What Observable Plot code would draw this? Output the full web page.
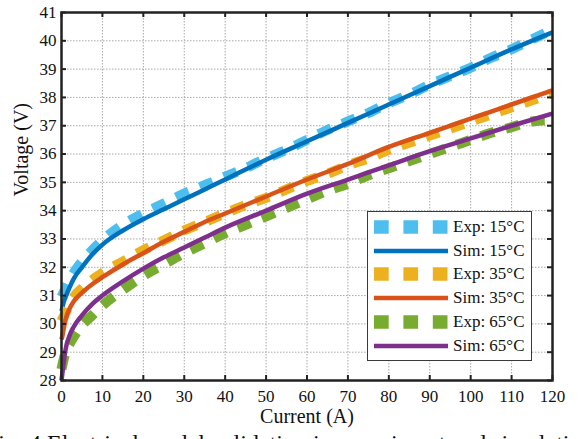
<!DOCTYPE html>
<html><head><meta charset="utf-8">
<script src="https://cdn.jsdelivr.net/npm/d3@7"></script>
<script src="https://cdn.jsdelivr.net/npm/@observablehq/plot@0.6"></script>
<style>
body{margin:0;background:#fff;font-family:"Liberation Serif",serif;}
#wrap{position:relative;width:579px;height:439px;overflow:hidden;background:#fff;}
#legend{position:absolute;left:367px;top:211px;width:165px;height:150px;border:1.5px solid #3a3a3a;background:#fff;box-sizing:border-box;}
.row{position:absolute;left:6px;height:24px;display:flex;align-items:center;font-size:17px;color:#111;white-space:nowrap;}
.row svg{margin-right:5px;}
#caption{position:absolute;left:-15px;top:430px;white-space:nowrap;font-size:24px;color:#111;font-family:"Liberation Serif",serif;}
</style></head><body>
<div id="wrap"><div id="chart"></div><div id="legend"></div><div id="caption">Fig. 4 Electrical model validation in experiment and simulation at different temperatures.</div></div>
<script>
// ---- data ----
const xTicks = [0,10,20,30,40,50,60,70,80,90,100,110,120];
const yTicks = [28,29,30,31,32,33,34,35,36,37,38,39,40,41];

const expCurrent = [0,1,2,3,5,7.5,10,15,20,25,30,35,40,45,50,55,60,65,70,75,80,85,90,95,100,105,110,115,120];
const exp15 = [30.95,31.25,31.55,31.8,32.2,32.6,32.95,33.5,33.9,34.25,34.6,34.9,35.2,35.5,35.85,36.15,36.5,36.85,37.15,37.45,37.8,38.1,38.45,38.75,39.05,39.4,39.7,40.05,40.4];
const exp35 = [30.1,30.4,30.7,30.95,31.25,31.55,31.8,32.2,32.6,32.95,33.3,33.6,33.9,34.2,34.45,34.75,35.05,35.3,35.6,35.85,36.15,36.4,36.65,36.9,37.15,37.4,37.65,37.9,38.15];
const exp65 = [28.4,29.0,29.3,29.55,29.95,30.3,30.65,31.2,31.7,32.1,32.5,32.85,33.2,33.5,33.8,34.1,34.4,34.7,34.95,35.25,35.5,35.75,36.0,36.25,36.5,36.75,36.95,37.15,37.2];

const simCurrent = [0,0.25,0.5,1,2,3,5,7.5,10,15,20,25,30,35,40,50,60,70,80,90,100,110,120];
const sim15 = [30.45,30.6,30.75,30.95,31.3,31.6,32.0,32.45,32.8,33.3,33.7,34.05,34.4,34.75,35.1,35.8,36.45,37.1,37.75,38.4,39.05,39.7,40.3];
const sim35 = [29.45,29.6,29.8,30.15,30.55,30.8,31.1,31.4,31.65,32.1,32.5,32.9,33.25,33.6,33.9,34.5,35.1,35.65,36.25,36.75,37.25,37.75,38.25];
const sim65 = [28.0,28.3,28.6,29.1,29.6,29.9,30.3,30.7,31.0,31.5,31.95,32.35,32.7,33.05,33.4,34.0,34.6,35.1,35.6,36.1,36.55,37.0,37.43];

const seriesNames = ["Exp: 15°C","Sim: 15°C","Exp: 35°C","Sim: 35°C","Exp: 65°C","Sim: 65°C"];
const seriesColors = ["#4DBEEE","#0072BD","#EDB120","#D95319","#77AC30","#7E2F8E"];
const seriesIsExp = [true,false,true,false,true,false];

// ---- build ----
const seriesData = [
  expCurrent.map((I,i)=>({I,V:exp15[i]})),
  simCurrent.map((I,i)=>({I,V:sim15[i]})),
  expCurrent.map((I,i)=>({I,V:exp35[i]})),
  simCurrent.map((I,i)=>({I,V:sim35[i]})),
  expCurrent.map((I,i)=>({I,V:exp65[i]})),
  simCurrent.map((I,i)=>({I,V:sim65[i]}))
];

const lineMarks = seriesData.map((d,k)=> seriesIsExp[k]
  ? Plot.line(d,{x:"I",y:"V",stroke:seriesColors[k],strokeWidth:10,strokeDasharray:"14 12",strokeLinecap:"butt",strokeLinejoin:"miter",curve:"monotone-x"})
  : Plot.line(d,{x:"I",y:"V",stroke:seriesColors[k],strokeWidth:4.5,strokeLinecap:"butt",curve:"monotone-x"}));

const FF = "Liberation Serif";
const W=579,H=424,mL=61,mR=27,mT=12,mB=44;
const fw=W-mL-mR, fh=H-mT-mB, tl=5;
const chart = Plot.plot({
  width:W,height:H,marginLeft:mL,marginRight:mR,marginTop:mT,marginBottom:mB,
  style:"font-family:'Liberation Serif',serif;font-size:17px;background:white;color:#111;overflow:visible;",
  x:{domain:[0,120]},
  y:{domain:[28,41]},
  marks:[
    Plot.gridX(xTicks,{stroke:"#a8a8a8",strokeOpacity:1,strokeWidth:1,strokeDasharray:"1.5,1.5"}),
    Plot.gridY(yTicks,{stroke:"#a8a8a8",strokeOpacity:1,strokeWidth:1,strokeDasharray:"1.5,1.5"}),
    ...lineMarks,
    Plot.tickX(xTicks,{x:d=>d,insetTop:fh-tl,stroke:"#222",strokeWidth:2}),
    Plot.tickX(xTicks,{x:d=>d,insetBottom:fh-tl,stroke:"#222",strokeWidth:2}),
    Plot.tickY(yTicks,{y:d=>d,insetRight:fw-tl,stroke:"#222",strokeWidth:2}),
    Plot.tickY(yTicks,{y:d=>d,insetLeft:fw-tl,stroke:"#222",strokeWidth:2}),
    Plot.axisX(xTicks,{tickSize:0,tickPadding:9,label:null,fontSize:17,fontFamily:FF}),
    Plot.axisY(yTicks,{tickSize:0,tickPadding:5,label:null,fontSize:17,fontFamily:FF}),
    Plot.frame({stroke:"#222",strokeWidth:2.5}),
    Plot.text(["Current (A)"],{frameAnchor:"bottom",dy:42,fontSize:20,fontFamily:FF}),
    Plot.text(["Voltage (V)"],{frameAnchor:"left",dx:-40,rotate:-90,fontSize:20,fontFamily:FF})
  ]
});
document.getElementById("chart").appendChild(chart);

// ---- legend ----
const leg = document.getElementById("legend");
seriesNames.forEach((name,k)=>{
  const row=document.createElement("div");
  row.className="row";
  row.style.top=(3+k*23.7)+"px";
  const sw = seriesIsExp[k]
    ? `<svg width="74" height="16"><line x1="0" y1="8" x2="74" y2="8" stroke="${seriesColors[k]}" stroke-width="13.5" stroke-dasharray="14.7 14.7"/></svg>`
    : `<svg width="74" height="16"><line x1="0" y1="8" x2="74" y2="8" stroke="${seriesColors[k]}" stroke-width="4.7"/></svg>`;
  row.innerHTML = sw + "<span>"+name+"</span>";
  leg.appendChild(row);
});
</script>
</body></html>
